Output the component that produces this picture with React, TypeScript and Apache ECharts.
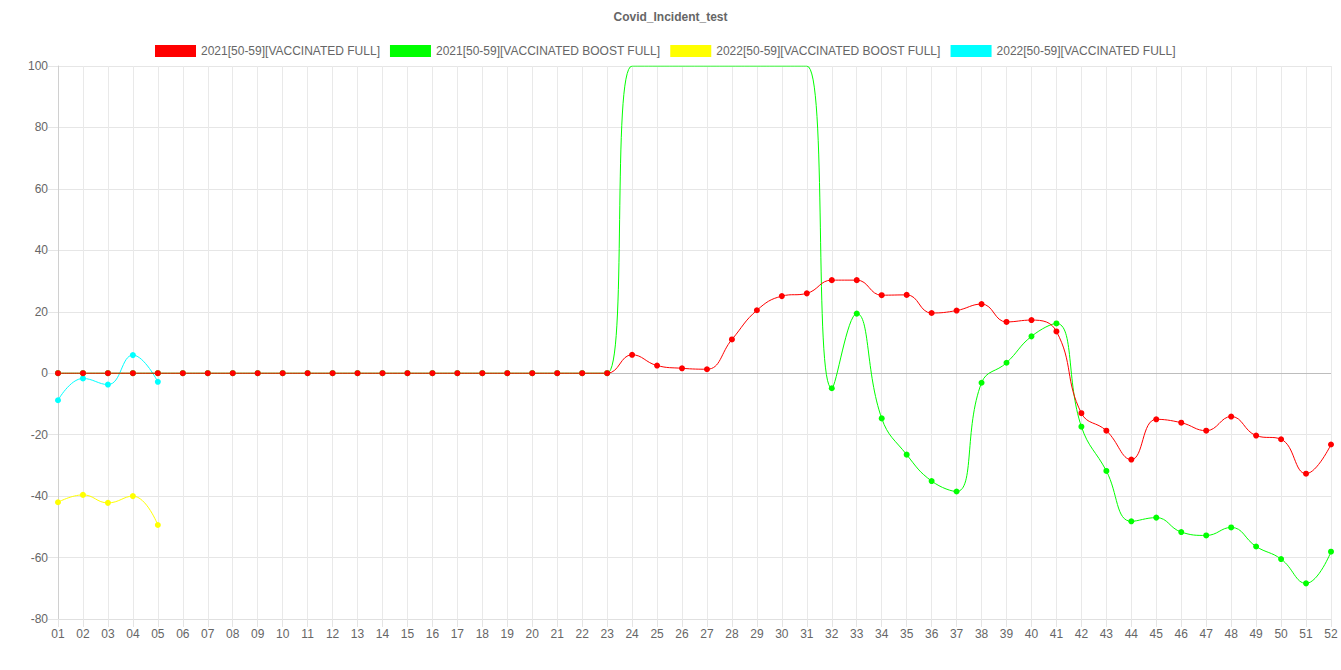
import React, { useEffect, useRef } from "react";
import * as echarts from "echarts";

const weeks: string[] = Array.from({ length: 52 }, (_, i) => String(i + 1).padStart(2, "0"));

const seriesNames = [
  "2021[50-59][VACCINATED FULL]",
  "2021[50-59][VACCINATED BOOST FULL]",
  "2022[50-59][VACCINATED BOOST FULL]",
  "2022[50-59][VACCINATED FULL]",
];

const full2021: number[] = [
  0, 0, 0, 0, 0, 0, 0, 0, 0, 0, 0, 0, 0, 0, 0, 0, 0, 0, 0, 0, 0, 0, 0,
  6.0, 2.5, 1.6, 1.3, 11.0, 20.5, 25.1, 26.0, 30.3, 30.3, 25.4, 25.5, 19.6,
  20.4, 22.5, 16.7, 17.3, 13.6, -13.0, -18.7, -28.1, -15.0, -16.1, -18.7,
  -14.1, -20.3, -21.5, -32.7, -23.2,
];

const boost2021: number[] = [
  0, 0, 0, 0, 0, 0, 0, 0, 0, 0, 0, 0, 0, 0, 0, 0, 0, 0, 0, 0, 0, 0, 0,
  100, 100, 100, 100, 100, 100, 100, 100, -4.9, 19.4, -14.7, -26.5, -35.1,
  -38.5, -3.1, 3.4, 12.0, 16.2, -17.4, -31.8, -48.2, -47.0, -51.7, -52.8,
  -50.2, -56.4, -60.5, -68.4, -58.1,
];

const boost2022: number[] = [-42.0, -39.6, -42.2, -40.0, -49.4];

const full2022: number[] = [-8.8, -1.7, -3.7, 5.9, -2.8];

const colors = ["#ff0000", "#00ff00", "#ffff00", "#00ffff"];

const yMin = -80;
const yMax = 100;
const yStep = 20;

const FONT = "'Liberation Sans', Arial, Helvetica, sans-serif";

function toData(values: number[]) {
  return values.map((v) => (v >= yMax ? { value: v, symbol: "none" } : v));
}

export default function App() {
  const ref = useRef<HTMLDivElement>(null);

  useEffect(() => {
    if (!ref.current) return;
    const chart = echarts.init(ref.current, undefined, { renderer: "svg" });
    const allValues = [full2021, boost2021, boost2022, full2022];
    const zs = [6, 5, 4, 3];
    chart.setOption({
      animation: false,
      backgroundColor: "#ffffff",
      textStyle: { fontFamily: FONT },
      title: {
        text: "Covid_Incident_test",
        left: "center",
        top: 6,
        textStyle: { fontSize: 12, fontWeight: "bold", color: "#666666", fontFamily: FONT },
      },
      legend: {
        top: 40,
        left: 150,
        icon: "rect",
        itemWidth: 41,
        itemHeight: 12,
        itemGap: 10,
        textStyle: { fontSize: 12, color: "#666666", fontFamily: FONT },
        data: seriesNames,
      },
      grid: { left: 58, right: 10, top: 66, bottom: 51, containLabel: false },
      xAxis: {
        type: "category",
        boundaryGap: false,
        data: weeks,
        axisLine: { show: true, onZero: false, lineStyle: { color: "#e0e0e0" } },
        axisTick: { show: true, length: 8, alignWithLabel: true, lineStyle: { color: "#e5e5e5" } },
        axisLabel: { color: "#666666", fontSize: 12, margin: 9, interval: 0, fontFamily: FONT },
        splitLine: { show: true, lineStyle: { color: "#e9e9e9" } },
      },
      yAxis: {
        type: "value",
        min: yMin,
        max: yMax,
        interval: yStep,
        axisLine: { show: true, lineStyle: { color: "#d0d0d0" } },
        axisTick: { show: true, length: 10, lineStyle: { color: "#e5e5e5" } },
        axisLabel: { color: "#666666", fontSize: 12, margin: 10, fontFamily: FONT },
        splitLine: { show: true, lineStyle: { color: "#e6e6e6" } },
      },
      series: seriesNames.map((name, i) => ({
        name,
        type: "line",
        data: toData(allValues[i]),
        smooth: 0.45,
        symbol: "circle",
        symbolSize: 6,
        showSymbol: true,
        z: zs[i],
        clip: true,
        color: colors[i],
        lineStyle: { width: 1, color: colors[i] },
        itemStyle: { color: colors[i] },
        markLine:
          i === 0
            ? {
                silent: true,
                symbol: "none",
                label: { show: false },
                lineStyle: { color: "#bdbdbd", width: 1, type: "solid" },
                data: [{ yAxis: 0 }],
                z: 1,
              }
            : undefined,
      })),
    });
    return () => chart.dispose();
  }, []);

  return (
    <div
      ref={ref}
      style={{ position: "fixed", left: 0, top: 0, width: 1341, height: 670 }}
    />
  );
}
